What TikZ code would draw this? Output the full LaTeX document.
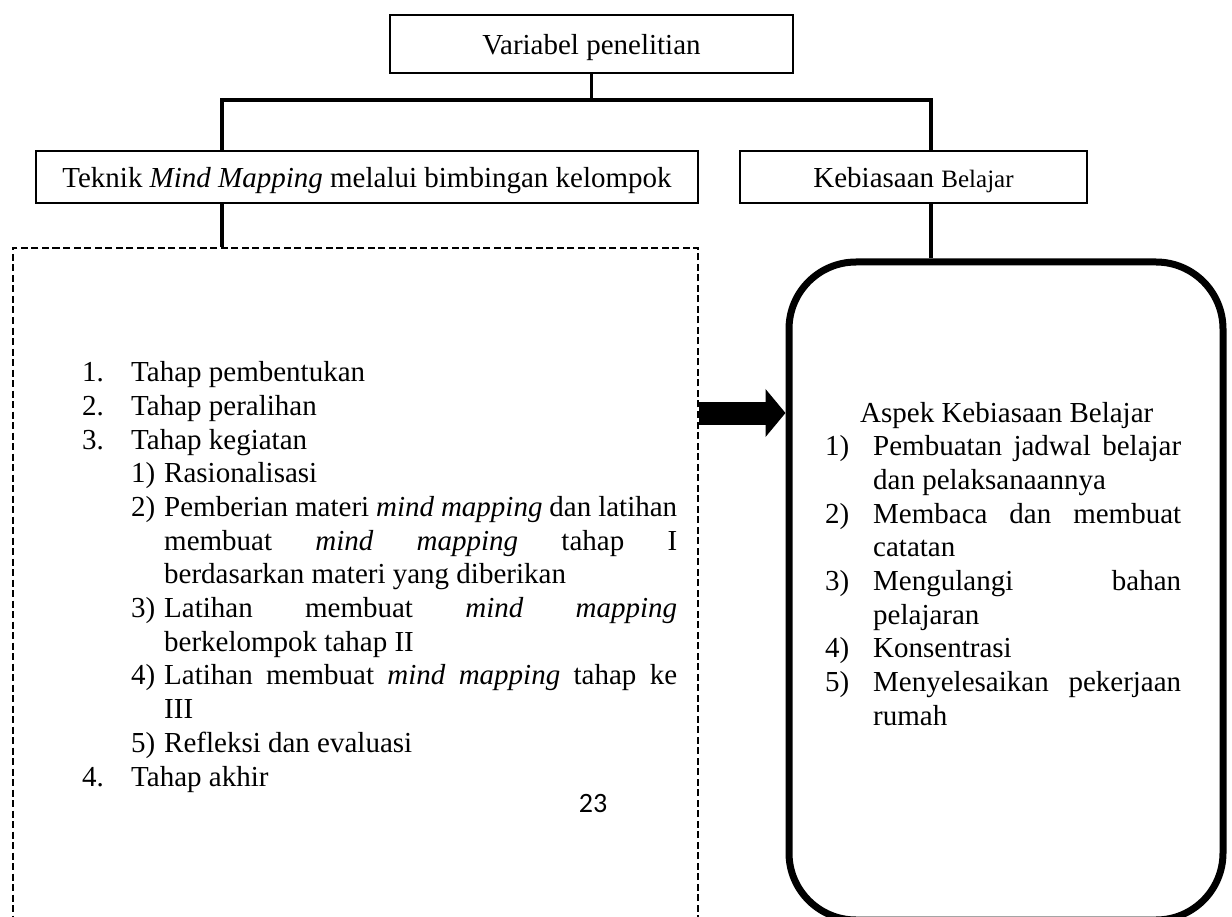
\documentclass[tikz,border=0pt]{standalone}
\usepackage{fontspec}
\setmainfont{Liberation Serif}
\newfontfamily\pagenumfont{Carlito}
\usepackage{enumitem}
\usetikzlibrary{arrows.meta}
\hyphenpenalty=10000
\exhyphenpenalty=10000

\begin{document}
\begin{tikzpicture}[x=1pt,y=-1pt,
  box/.style={draw,line width=2pt,inner sep=0pt,text height=24pt,text depth=2pt,font=\fontsize{29pt}{34pt}\selectfont},
  link/.style={line width=3.4pt},
  listtext/.style={anchor=base west,inner sep=0pt,align=justify,font=\fontsize{29pt}{33.7pt}\selectfont}
]
\useasboundingbox (0,0) rectangle (1232,917);
\clip (0,0) rectangle (1232,917);
% boxes
\node[box,minimum width=403pt,minimum height=58pt] (var) at (591.5,44) {Variabel penelitian};
\node[box,minimum width=662pt,minimum height=52pt] (teknik) at (367,177) {Teknik \textit{Mind Mapping} melalui bimbingan kelompok};
\node[box,minimum width=347pt,minimum height=52pt] (kebiasaan) at (913.5,177) {Kebiasaan {\fontsize{25pt}{30pt}\selectfont Belajar}};
\node[draw,line width=2pt,dash pattern=on 7pt off 3.5pt,minimum width=685pt,minimum height=682pt] (tahap) at (355.5,589) {};
\node[draw,line width=7pt,rounded corners=67pt,minimum width=434pt,minimum height=658pt] (aspek) at (1006,591) {};
% tree lines
\coordinate (barL) at (222,100);
\coordinate (barR) at (931,100);
\coordinate (arrowY) at (0,413);
\draw[link] (var.south) -- (var.south |- barL);
\draw[link] (barL |- teknik.north) -- (barL) -- (barR) -- (barR |- kebiasaan.north);
\draw[link] (barL |- teknik.south) -- (barL |- tahap.north);
\draw[link] (barR |- kebiasaan.south) -- (barR |- aspek.north);
\draw[line width=23pt,-{Triangle[length=20pt,width=47pt]}] (tahap.east |- arrowY) -- (aspek.west |- arrowY);
% texts
\node[listtext,text width=595pt] (stages) at (82,348) {%
\begin{enumerate}[label=\arabic*.,leftmargin=49pt,labelwidth=49pt,labelsep=0pt,align=left,nosep]
\item Tahap pembentukan
\item Tahap peralihan
\item Tahap kegiatan
  \begin{enumerate}[label=\arabic*),leftmargin=33pt,labelwidth=33pt,labelsep=0pt,align=left,nosep]
  \item Rasionalisasi
  \item Pemberian materi \textit{mind mapping} dan latihan\linebreak membuat \textit{mind mapping} tahap I\linebreak berdasarkan materi yang diberikan
  \item Latihan membuat \textit{mind mapping}\linebreak berkelompok tahap II
  \item Latihan membuat \textit{mind mapping} tahap ke\linebreak III
  \item Refleksi dan evaluasi
  \end{enumerate}
\item Tahap akhir
\end{enumerate}};
\node[listtext] (aspektitle) at (860,422) {Aspek Kebiasaan Belajar};
\node[listtext,text width=356pt] (aspeklist) at (825,422) {%
\begin{enumerate}[label=\arabic*),leftmargin=48pt,labelwidth=48pt,labelsep=0pt,align=left,nosep]
\item Pembuatan jadwal belajar\linebreak dan pelaksanaannya
\item Membaca dan membuat\linebreak catatan
\item Mengulangi bahan\linebreak pelajaran
\item Konsentrasi
\item Menyelesaikan pekerjaan\linebreak rumah
\end{enumerate}};
\node[anchor=base,inner sep=0pt,font=\pagenumfont\fontsize{28pt}{30pt}\selectfont] (pagenum) at (593,812) {23};
\end{tikzpicture}
\end{document}
